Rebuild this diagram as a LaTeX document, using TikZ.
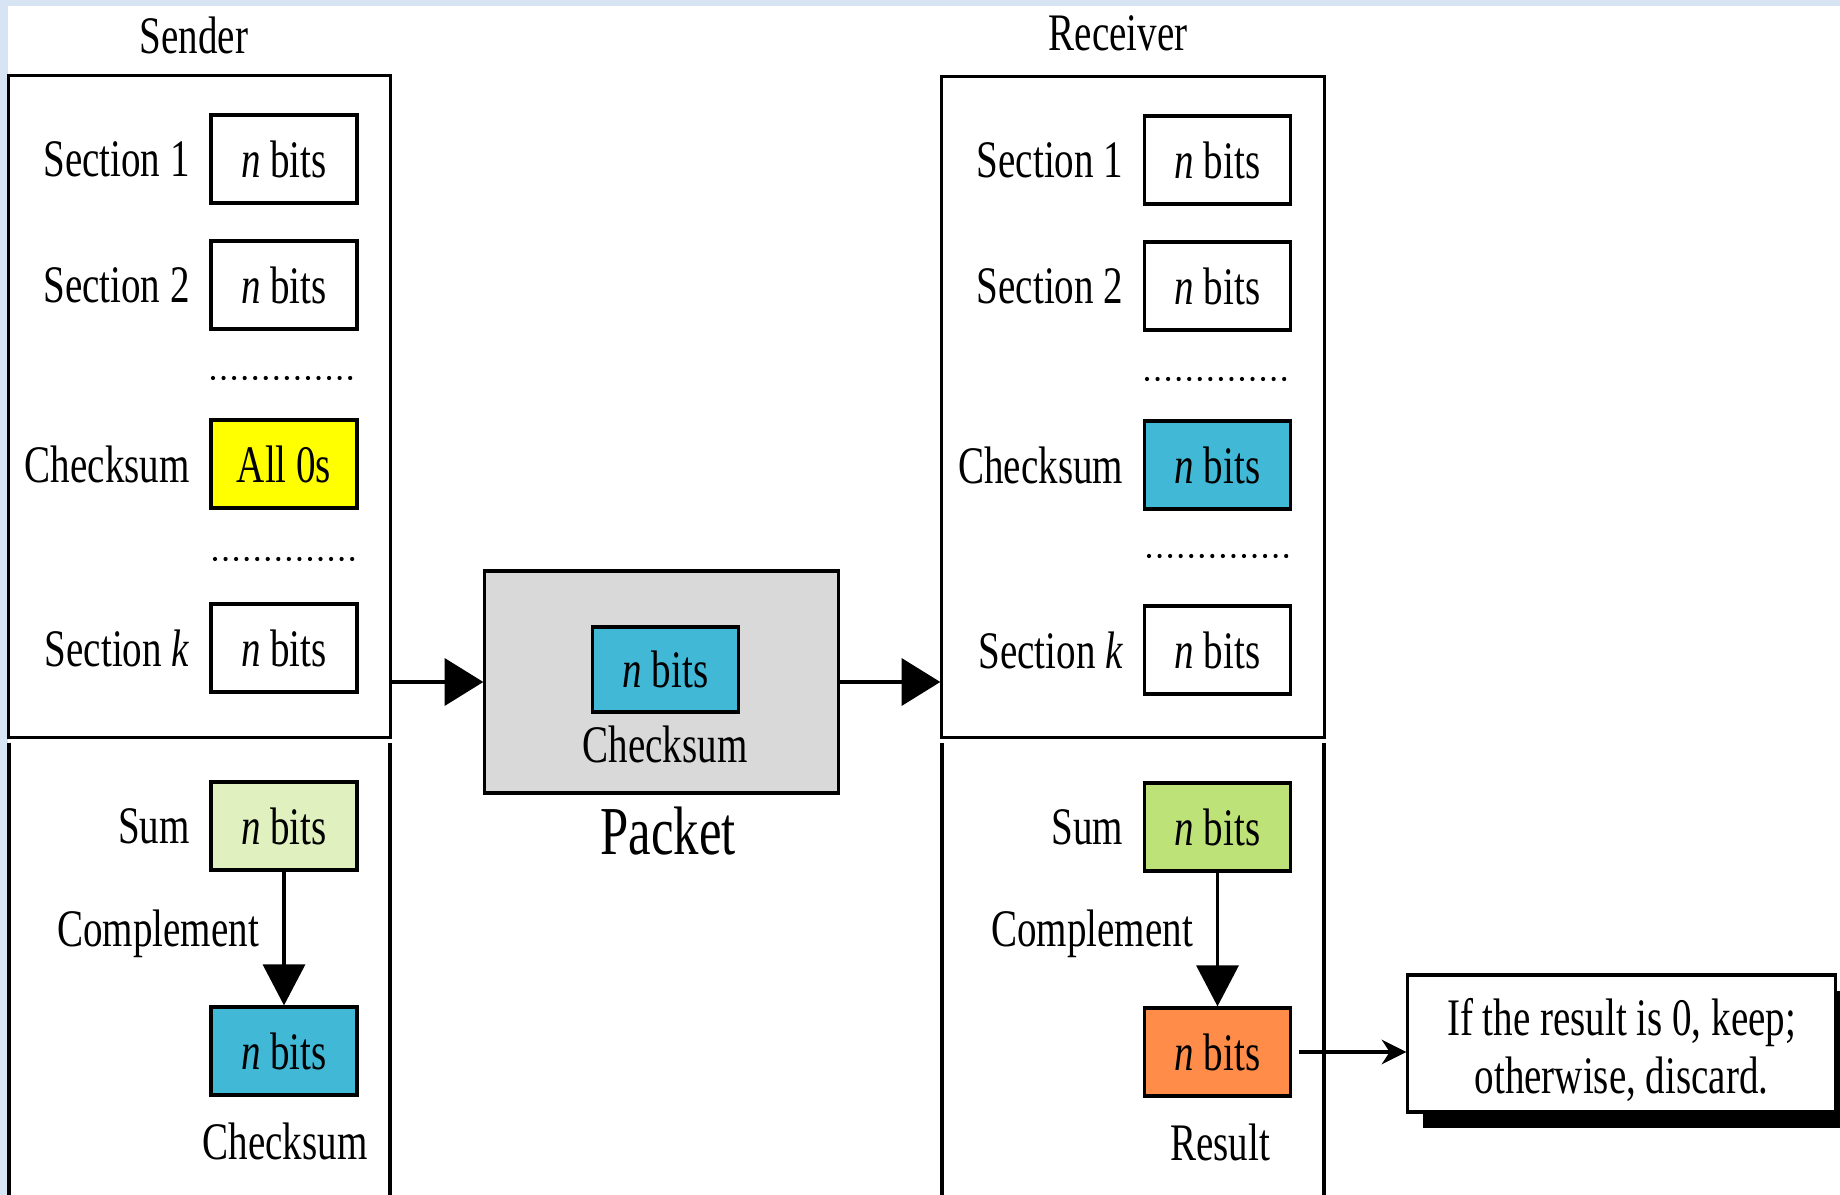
\documentclass[tikz,border=0pt]{standalone}
\usepackage{fontspec}
\setmainfont{Liberation Serif}[FakeStretch=0.74]
\usetikzlibrary{arrows.meta,shadows,positioning}

\definecolor{bgblue}{RGB}{214,228,243}
\definecolor{cksblue}{RGB}{64,184,214}
\definecolor{allzero}{RGB}{255,255,0}
\definecolor{sumpale}{RGB}{224,240,190}
\definecolor{sumgreen}{RGB}{188,226,120}
\definecolor{resorange}{RGB}{255,140,72}
\definecolor{pktgray}{RGB}{217,217,217}

\tikzset{
  txt/.style={font=\fontsize{15pt}{16.7pt}\selectfont, inner sep=0pt},
  lbl/.style={txt, left=0.19cm of #1},
  frame/.style={draw, line width=0.9pt, inner sep=0pt},
  bitbox/.style={draw, line width=0.9pt, minimum width=1.46cm, minimum height=0.88cm,
                 inner sep=0pt, font=\fontsize{15pt}{16.7pt}\selectfont},
  dotrow/.style={line width=1.2pt, line cap=round, dash pattern=on 0pt off 3.0pt},
  bigarrow/.style={line width=0.9pt, -{Triangle[length=11pt,width=13.4pt]}},
  downarrow/.style={line width=0.9pt, -{Triangle[length=11.7pt,width=12pt]}},
  smallarrow/.style={line width=0.9pt, -{Stealth[length=7pt,width=7pt]}},
}

\begin{document}
\begin{tikzpicture}[x=0.01cm,y=-0.01cm]
\clip (0,0) rectangle (1840,1195);
% page background
\fill[bgblue] (0,0) rectangle (1840,1195);
\fill[white] (8,6) rectangle (1840,1195);

% ---------------- sender ----------------
\node[txt] (sndtitle) at (194,35) {Sender};
\node[frame, minimum width=3.81cm, minimum height=6.61cm] (sndbox) at (199.5,406.5) {};
\draw[line width=0.9pt] (9,743) -- (9,1200);
\draw[line width=0.9pt] (390,743) -- (390,1200);

\node[bitbox] (s1) at (284,159) {\textit{n} bits};
\node[lbl=s1] (s1l) {Section 1};
\node[bitbox] (s2) at (284,285) {\textit{n} bits};
\node[lbl=s2] (s2l) {Section 2};
\draw[dotrow] (213,378) -- (356,378);
\node[bitbox, fill=allzero] (sck) at (284,464) {All 0s};
\node[lbl=sck] (sckl) {Checksum};
\draw[dotrow] (215,559) -- (358,559);
\node[bitbox] (sk) at (284,648) {\textit{n} bits};
\node[lbl=sk] (skl) {Section \textit{k}};

\node[bitbox, fill=sumpale] (ssum) at (284,826) {\textit{n} bits};
\node[lbl=ssum] (ssuml) {Sum};
\node[bitbox, fill=cksblue] (scks) at (284,1051) {\textit{n} bits};
\node[txt] (scksl) at (285,1141) {Checksum};
\node[txt] (scomp) at (158,934) {Complement};
\draw[downarrow] (ssum.south) -- (scks.north);

% ---------------- packet ----------------
\node[frame, fill=pktgray, minimum width=3.53cm, minimum height=2.22cm] (pkt) at (661.5,682) {};
\node[bitbox, fill=cksblue, minimum height=0.85cm] (pcks) at (665.5,669.5) {\textit{n} bits};
\node[txt] (pcksl) at (665,744) {Checksum};
\node[txt, font=\fontsize{19.5pt}{22pt}\selectfont] (pktl) at (668,831) {Packet};

% ---------------- receiver ----------------
\node[txt] (rcvtitle) at (1118,33) {Receiver};
\node[frame, minimum width=3.82cm, minimum height=6.60cm] (rcvbox) at (1133,407) {};
\draw[line width=0.9pt] (942,743) -- (942,1200);
\draw[line width=0.9pt] (1324,743) -- (1324,1200);

\node[bitbox] (r1) at (1217.5,160) {\textit{n} bits};
\node[lbl=r1] (r1l) {Section 1};
\node[bitbox] (r2) at (1217.5,286) {\textit{n} bits};
\node[lbl=r2] (r2l) {Section 2};
\draw[dotrow] (1147,379) -- (1292,379);
\node[bitbox, fill=cksblue] (rck) at (1217.5,465) {\textit{n} bits};
\node[lbl=rck] (rckl) {Checksum};
\draw[dotrow] (1149,556) -- (1294,556);
\node[bitbox] (rk) at (1217.5,650) {\textit{n} bits};
\node[lbl=rk] (rkl) {Section \textit{k}};

\node[bitbox, fill=sumgreen] (rsum) at (1217.5,827) {\textit{n} bits};
\node[lbl=rsum] (rsuml) {Sum};
\node[bitbox, fill=resorange] (rres) at (1217.5,1052) {\textit{n} bits};
\node[txt] (rresl) at (1220,1142) {Result};
\node[txt] (rcomp) at (1092,934) {Complement};
\draw[downarrow] (rsum.south) -- (rres.north);

% ---------------- decision ----------------
\node[frame, fill=white, minimum width=4.27cm, minimum height=1.37cm,
      drop shadow={shadow xshift=0.15cm, shadow yshift=-0.16cm, fill=black, opacity=1}]
      (dec) at (1621.5,1043.5) {};
\node[txt, align=center] (dect) at (1621.5,1050) {If the result is 0, keep;\\otherwise, discard.};

% ---------------- flow ----------------
\draw[bigarrow] (sndbox.east |- pkt.west) -- (pkt.west);
\draw[bigarrow] (pkt.east) -- (rcvbox.west |- pkt.east);
\draw[smallarrow, shorten <=2pt] (rres.east) -- (dec.west |- rres.east);
\end{tikzpicture}
\end{document}
